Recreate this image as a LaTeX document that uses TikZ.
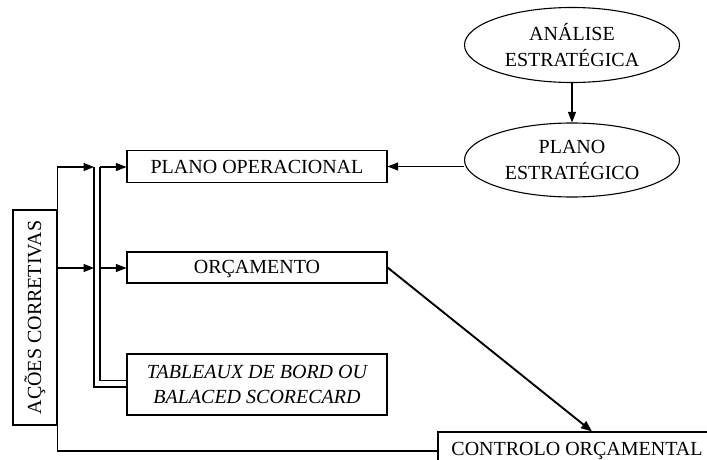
\documentclass[tikz,border=0pt]{standalone}
\usepackage{fontspec}
\setmainfont{Liberation Serif}
\usetikzlibrary{arrows.meta,shapes.geometric}

\begin{document}
\begin{tikzpicture}[x=1pt,y=-1pt,
  every node/.style={font=\fontsize{20}{26}\selectfont, align=center, inner sep=0pt},
  box/.style={draw, line width=1.1pt, fill=white},
  oval/.style={draw, line width=1.1pt, ellipse, fill=white},
  arr/.style={line width=1.1pt, -{Triangle[length=10.5pt,width=8pt]}},
  conn/.style={line width=1.1pt},
  heavy/.style={line width=1.9pt, -{Triangle[length=11pt,width=8.5pt]}}]

% canvas
\clip (0,0) rectangle (707,460);
\fill[white] (0,0) rectangle (707,460);

% strategic ellipses
\node[oval, minimum width=215pt, minimum height=75pt] (ae) at (572,45) {ANÁLISE\\ESTRATÉGICA};
\node[oval, minimum width=215pt, minimum height=74pt] (pe) at (572,160) {PLANO\\ESTRATÉGICO};

% operational boxes
\node[box, minimum width=260pt, minimum height=32pt] (po) at (257,166.5) {PLANO OPERACIONAL};
\node[box, minimum width=260pt, minimum height=31pt, text depth=1pt] (or) at (257,267.5) {ORÇAMENTO};
\node[box, minimum width=260pt, minimum height=61pt, font=\fontsize{20}{25}\selectfont\itshape] (tb) at (257,384.5) {TABLEAUX DE BORD OU\\BALACED SCORECARD};
\node[box, minimum width=278pt, minimum height=38pt] (co) at (577,451) {CONTROLO ORÇAMENTAL};

% corrective actions box with vertical label
\node[box, minimum width=44pt, minimum height=215pt] (ac) at (35,317.5) {};
\node[rotate=90] (acl) at (ac.center) {AÇÕES CORRETIVAS};

% junction points of the feedback bus
\coordinate (t1) at (94,167);
\coordinate (t2) at (94,268);
\coordinate (b1) at (100,167);
\coordinate (b2) at (100,268);

% strategic flow
\draw[arr] (ae) -- (pe);
\draw[arr] (pe.west |- po.east) -- (po.east);

% corrective actions feeding the bus
\draw[arr] (ac.north east) |- (t1);
\draw[arr] (ac.east |- t2) -- (t2);
\draw[arr] (b1) -- (po.west |- b1);
\draw[arr] (b2) -- (or.west |- b2);

% double link down to the scorecard box
\draw[conn] (t1) |- ([yshift=-2.5pt]tb.west);
\draw[conn] (b1) |- ([yshift=4pt]tb.west);

% budget to budgetary control
\draw[heavy] (or.east) -- ([xshift=15pt]co.north);

% loop back from control
\draw[conn] (ac.south east) |- (co.west);
\end{tikzpicture}
\end{document}
